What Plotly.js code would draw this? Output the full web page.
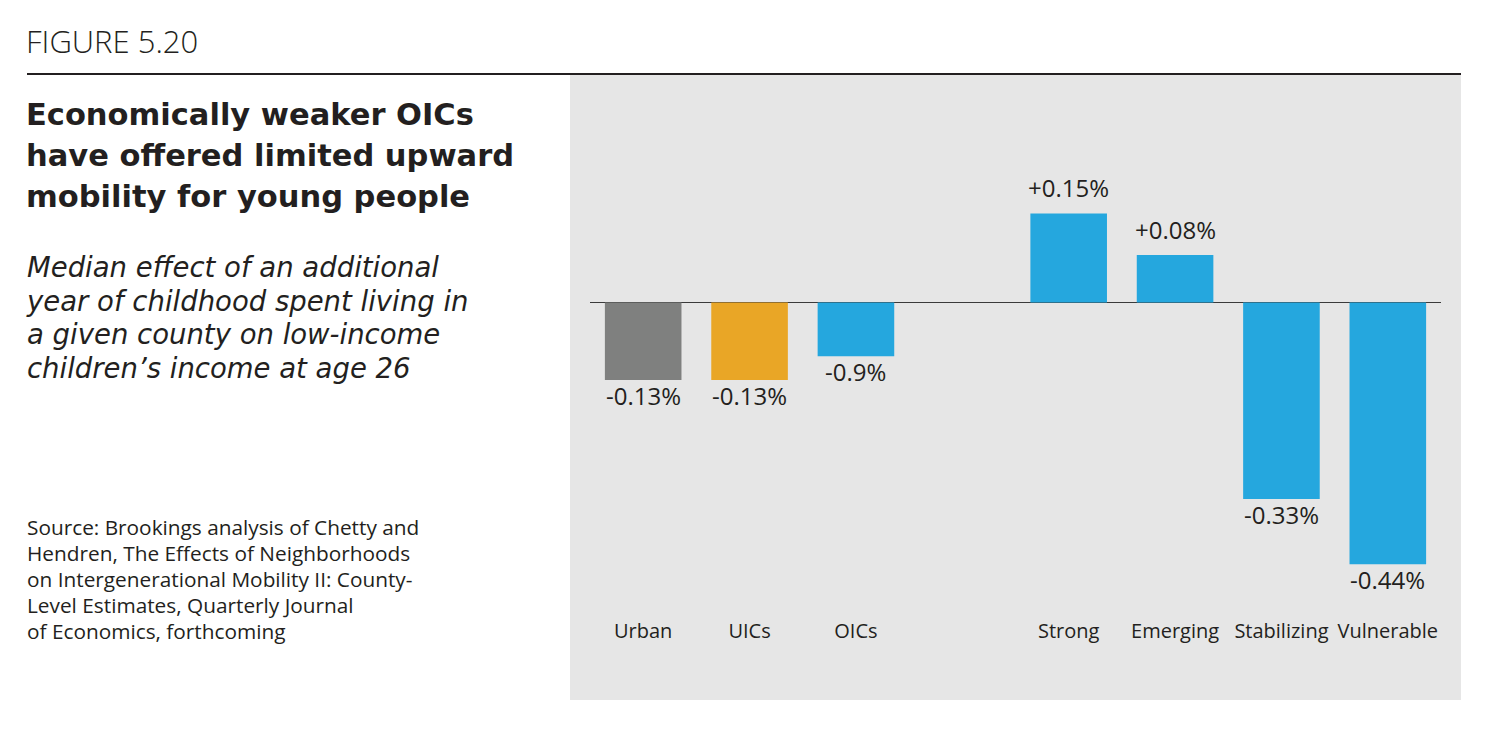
<!DOCTYPE html>
<html>
<head>
<meta charset="utf-8">
<script src="https://cdn.plot.ly/plotly-3.0.1.min.js"></script>
<style>html,body{margin:0;padding:0;background:#fff;}#chart{width:1500px;height:738px;}</style>
</head>
<body>
<div id="chart"></div>
<script>
// Data
const categories = ["Urban", "UICs", "OICs", " ", "Strong", "Emerging", "Stabilizing", "Vulnerable"];
const values = [-0.13, -0.13, -0.09, null, 0.15, 0.08, -0.33, -0.44];
const valueLabels = ["-0.13%", "-0.13%", "-0.9%", "", "+0.15%", "+0.08%", "-0.33%", "-0.44%"];
const barColors = ["#7f807f", "#e9a626", "#25a7de", "#25a7de", "#25a7de", "#25a7de", "#25a7de", "#25a7de"];

const figureLabel = "FIGURE 5.20";
const titleLines = ["Economically weaker OICs", "have offered limited upward", "mobility for young people"];
const subtitleLines = ["Median effect of an additional", "year of childhood spent living in", "a given county on low-income", "children’s income at age 26"];
const sourceLines = ["Source: Brookings analysis of Chetty and", "Hendren, The Effects of Neighborhoods", "on Intergenerational Mobility II: County-", "Level Estimates, Quarterly Journal", "of Economics, forthcoming"];

// Layout geometry (pixels)
const W = 1500, H = 738;
const L = 590, R = 59, T = 120, B = 138;
const pw = W - L - R, ph = H - T - B;
const px = x => (x - L) / pw;
const py = y => (H - B - y) / ph;

const TXT = "#231f20";
const FONT = "Open Sans, sans-serif";
const DEJAVU = "DejaVu Sans, sans-serif";

const annotations = [];
// multi-line text block: base size sets line spacing (1.3em), glyph size set by span
function addBlock(lines, x, yCenter, lineGap, glyphSize, family, wrap) {
  const base = lineGap / 1.3;
  const text = lines.map(t => '<span style="font-size:' + glyphSize + 'px">' + wrap(t) + '</span>').join("<br>");
  annotations.push({
    text: text, xref: "paper", yref: "paper", x: px(x), y: py(yCenter),
    xanchor: "left", yanchor: "middle", align: "left", showarrow: false,
    font: {family: family, size: base, color: TXT}
  });
}
annotations.push({
  text: figureLabel, xref: "paper", yref: "paper", x: px(24), y: py(41),
  xanchor: "left", yanchor: "middle", showarrow: false,
  font: {family: FONT, size: 31, color: TXT, weight: 300}
});
addBlock(titleLines, 24, 155, 41, 30.5, DEJAVU, t => "<b>" + t + "</b>");
addBlock(subtitleLines, 24, 317, 33.7, 27.5, DEJAVU, t => "<i>" + t + "</i>");
addBlock(sourceLines, 25, 578.5, 26, 20.8, FONT, t => t);

// Value labels attached to the bars through the data axes
categories.forEach((c, i) => {
  if (values[i] === null) return;
  const pos = values[i] >= 0;
  annotations.push({
    text: valueLabels[i], xref: "x", yref: "y", x: c, y: values[i],
    xanchor: "center", yanchor: pos ? "bottom" : "top",
    yshift: pos ? 7 : 3, showarrow: false,
    font: {family: FONT, size: 24, color: TXT}
  });
});

const trace = {
  type: "bar",
  x: categories,
  y: values,
  marker: {color: barColors, line: {width: 0}},
  hoverinfo: "none"
};

const layout = {
  width: W, height: H,
  margin: {l: L, r: R, t: T, b: B},
  paper_bgcolor: "#ffffff",
  plot_bgcolor: "rgba(0,0,0,0)",
  showlegend: false,
  bargap: 0.28,
  font: {family: FONT, color: TXT},
  xaxis: {
    type: "category",
    categoryorder: "array",
    categoryarray: categories,
    showgrid: false, zeroline: false, showline: false, ticks: "",
    tickfont: {family: FONT, size: 20, color: TXT},
    ticklabelstandoff: 17,
    fixedrange: true
  },
  yaxis: {
    range: [-0.5, 0.307],
    showgrid: false, showticklabels: false, ticks: "", showline: false,
    zeroline: true, zerolinecolor: "#3a3a3a", zerolinewidth: 1.5,
    fixedrange: true
  },
  shapes: [
    {type: "rect", xref: "paper", yref: "paper", x0: px(570), x1: px(1461), y0: py(700), y1: py(75),
     fillcolor: "#e6e6e6", line: {width: 0}, layer: "below"},
    {type: "line", xref: "paper", yref: "paper", x0: px(27), x1: px(1461), y0: py(74), y1: py(74),
     line: {color: TXT, width: 2}}
  ],
  annotations: annotations
};

Plotly.newPlot("chart", [trace], layout, {displayModeBar: false, staticPlot: true});
</script>
</body>
</html>
